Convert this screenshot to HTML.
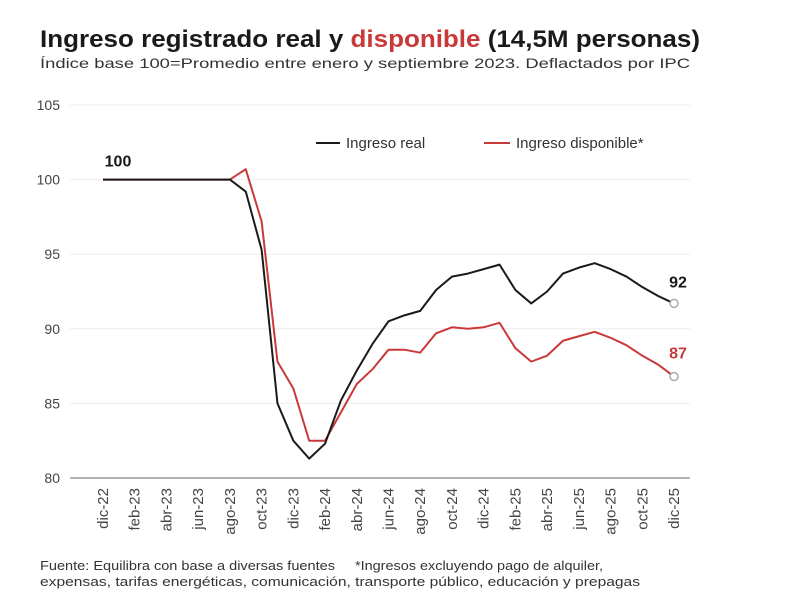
<!DOCTYPE html>
<html><head><meta charset="utf-8"><style>
body{margin:0;background:#fff;width:800px;height:604px;overflow:hidden;font-family:"Liberation Sans",sans-serif;}
</style></head><body>
<svg width="800" height="604" id="svg">
<text x="40" y="47" font-size="24" font-weight="bold" fill="#1a1a1a" textLength="660" lengthAdjust="spacingAndGlyphs">Ingreso registrado real y <tspan fill="#c8393a">disponible</tspan> (14,5M personas)</text>
<text x="40" y="68" font-size="14" fill="#333" textLength="650" lengthAdjust="spacingAndGlyphs">Índice base 100=Promedio entre enero y septiembre 2023. Deflactados por IPC</text>
<g id="grid"></g><g id="lines"></g>
<g>
<line x1="316" y1="143" x2="340" y2="143" stroke="#1a1a1a" stroke-width="2"/>
<text x="346" y="148" font-size="15" fill="#333">Ingreso real</text>
<line x1="484" y1="143" x2="510" y2="143" stroke="#c8393a" stroke-width="2"/>
<text x="516" y="148" font-size="15" fill="#333">Ingreso disponible*</text>
</g>
<text x="40" y="570" font-size="12.5" fill="#333" textLength="295" lengthAdjust="spacingAndGlyphs">Fuente: Equilibra con base a diversas fuentes</text>
<text x="355" y="570" font-size="12.5" fill="#333" textLength="248" lengthAdjust="spacingAndGlyphs">*Ingresos excluyendo pago de alquiler,</text>
<text x="40" y="586" font-size="12.5" fill="#333" textLength="600" lengthAdjust="spacingAndGlyphs">expensas, tarifas energéticas, comunicación, transporte público, educación y prepagas</text>
</svg>
<script>
const months=["dic-22","ene-23","feb-23","mar-23","abr-23","may-23","jun-23","jul-23","ago-23","sep-23","oct-23","nov-23","dic-23","ene-24","feb-24","mar-24","abr-24","may-24","jun-24","jul-24","ago-24","sep-24","oct-24","nov-24","dic-24","ene-25","feb-25","mar-25","abr-25","may-25","jun-25","jul-25","ago-25","sep-25","oct-25","nov-25","dic-25"];
const real=[100,100,100,100,100,100,100,100,100,99.2,95.3,85,82.5,81.3,82.3,85.2,87.2,89,90.5,90.9,91.2,92.6,93.5,93.7,94,94.3,92.6,91.7,92.5,93.7,94.1,94.4,94,93.5,92.8,92.2,91.7];
const disp=[100,100,100,100,100,100,100,100,100,100.7,97.2,87.8,86,82.5,82.5,84.4,86.3,87.3,88.6,88.6,88.4,89.7,90.1,90,90.1,90.4,88.7,87.8,88.2,89.2,89.5,89.8,89.4,88.9,88.2,87.6,86.8];
const yTicks=[80,85,90,95,100,105];
const NS="http://www.w3.org/2000/svg";
const x=i=>103+i*(571/36);
const y=v=>478-(v-80)*(373/25);
function mk(t,a,p){const e=document.createElementNS(NS,t);for(const k in a)e.setAttribute(k,a[k]);p.appendChild(e);return e;}
const g=document.getElementById('grid'),L=document.getElementById('lines');
yTicks.forEach(v=>{
 const l=mk('line',{x1:70,x2:690,y1:y(v),y2:y(v),stroke:v==80?'#999':'#eee','stroke-width':v==80?1.5:1},g);
 
 
 const t=mk('text',{x:60,y:y(v)+5,'font-size':14,fill:'#444','text-anchor':'end'},g);
 t.textContent=v;
 
 
});
months.forEach((m,i)=>{if(i%2)return;
 const t=mk('text',{transform:`translate(${x(i)+5},488) rotate(-90)`,'font-size':15,fill:'#444','text-anchor':'end'},g);
 t.textContent=m;
 
 
});
function line(d,c,n){const p=mk('polyline',{points:d.map((v,i)=>x(i)+','+y(v)).join(' '),fill:'none',stroke:c,'stroke-width':2,'stroke-linejoin':'round'},L);
 
 
 const c2=mk('circle',{cx:x(d.length-1),cy:y(d[d.length-1]),r:4,fill:'#fff',stroke:'#aaa','stroke-width':1.5},L);
 
 }
line(disp,'#c8393a','disponible-line');
line(real,'#1a1a1a','real-line');
function lab(s,xx,yy,c,n){const t=mk('text',{x:xx,y:yy,'font-size':16,'font-weight':'bold',fill:c,'text-anchor':'middle'},L);t.textContent=s;
 
 }
lab('100',x(0)+15,y(100)-13,'#1a1a1a','start-label');
lab(Math.round(real[36]),x(36)+4,y(real[36])-16,'#1a1a1a','real-end-label');
lab(Math.round(disp[36]),x(36)+4,y(disp[36])-18,'#c8393a','disp-end-label');
</script>
</body></html>
